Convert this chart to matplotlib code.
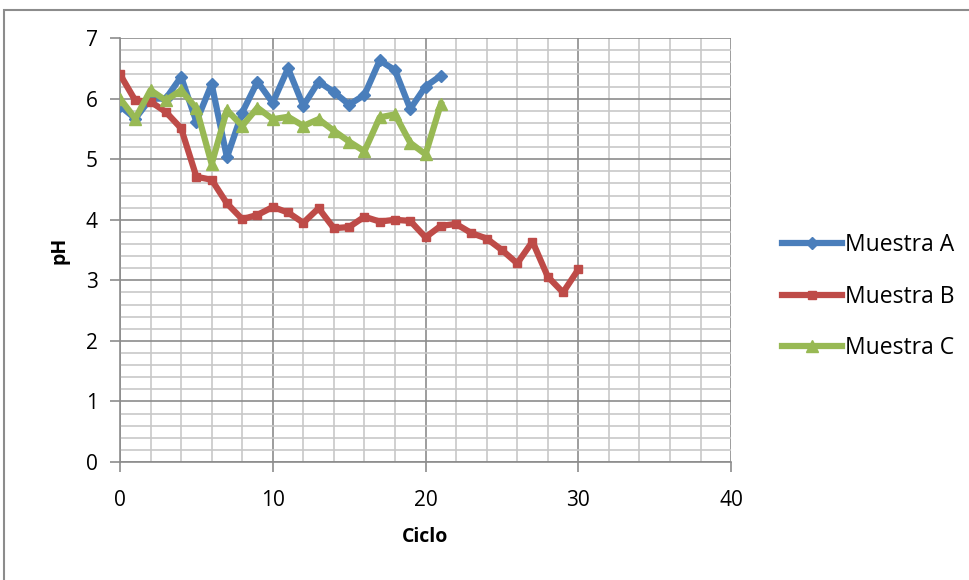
import matplotlib
matplotlib.use("Agg")
import matplotlib.pyplot as plt
from matplotlib.patches import Rectangle
from matplotlib.ticker import MultipleLocator

# ---- data ----
ciclo_a = list(range(0, 22))
ph_a = [5.88, 5.67, 6.0, 6.0, 6.36, 5.62, 6.24, 5.03, 5.77, 6.28, 5.93, 6.5,
        5.88, 6.28, 6.11, 5.9, 6.06, 6.63, 6.47, 5.83, 6.2, 6.38]

ciclo_b = list(range(0, 31))
ph_b = [6.4, 5.97, 5.95, 5.78, 5.51, 4.71, 4.66, 4.27, 4.01, 4.08, 4.21, 4.12,
        3.95, 4.19, 3.86, 3.88, 4.05, 3.97, 4.0, 3.98, 3.71, 3.9, 3.93, 3.78,
        3.69, 3.5, 3.28, 3.64, 3.06, 2.8, 3.18]

ciclo_c = list(range(0, 22))
ph_c = [6.0, 5.67, 6.14, 5.97, 6.14, 5.84, 4.92, 5.81, 5.55, 5.85, 5.66, 5.7,
        5.55, 5.66, 5.47, 5.29, 5.13, 5.69, 5.74, 5.27, 5.08, 5.91]

labels = ["Muestra A", "Muestra B", "Muestra C"]
colors = ["#4A7EBB", "#BE4B48", "#98B954"]
markers = ["D", "s", "^"]

plt.rcParams["font.family"] = ["Open Sans", "DejaVu Sans"]

fig = plt.figure(figsize=(9.7, 5.8), dpi=100)
ax = fig.add_axes([0.1237, 0.2034, 0.63, 0.731])

series = [(ciclo_a, ph_a), (ciclo_b, ph_b), (ciclo_c, ph_c)]
for (x, y), lab, col, mk in zip(series, labels, colors, markers):
    ax.plot(x, y, color=col, linewidth=4.5, marker=mk, markersize=6 if mk != "^" else 8,
            markerfacecolor=col, markeredgecolor=col, label=lab, zorder=3)

ax.set_xlim(0, 40)
ax.set_ylim(0, 7)
ax.xaxis.set_major_locator(MultipleLocator(10))
ax.xaxis.set_minor_locator(MultipleLocator(2))
ax.yaxis.set_major_locator(MultipleLocator(1))
ax.yaxis.set_minor_locator(MultipleLocator(0.2))

ax.grid(True, which="minor", color="#C8C8C8", linewidth=1.2)
ax.grid(True, which="major", color="#8C8C8C", linewidth=1.2)
ax.set_axisbelow(True)

for side in ["top", "right"]:
    ax.spines[side].set_visible(False)
for side in ["left", "bottom"]:
    ax.spines[side].set_color("#8C8C8C")
    ax.spines[side].set_linewidth(1.2)

ax.tick_params(axis="both", which="major", length=7, width=1.2, color="#8C8C8C",
               labelsize=15)
ax.tick_params(axis="both", which="minor", length=0)
ax.tick_params(axis="x", pad=13)
ax.tick_params(axis="y", pad=9)

ax.set_xlabel("Ciclo", fontsize=14, fontweight="bold", labelpad=12)
ax.set_ylabel("pH", fontsize=14, fontweight="bold", labelpad=12)

ax.legend(loc="center left", bbox_to_anchor=(1.05, 0.39), frameon=False,
          fontsize=16.5, handlelength=2.6, labelspacing=1.2, handletextpad=0.15)

# outer chart border
fig.patches.append(Rectangle((0.004, -0.01), 1.1, 0.993, transform=fig.transFigure,
                             fill=False, edgecolor="#8C8C8C", linewidth=1.5))

fig.savefig("out.png", dpi=100)
